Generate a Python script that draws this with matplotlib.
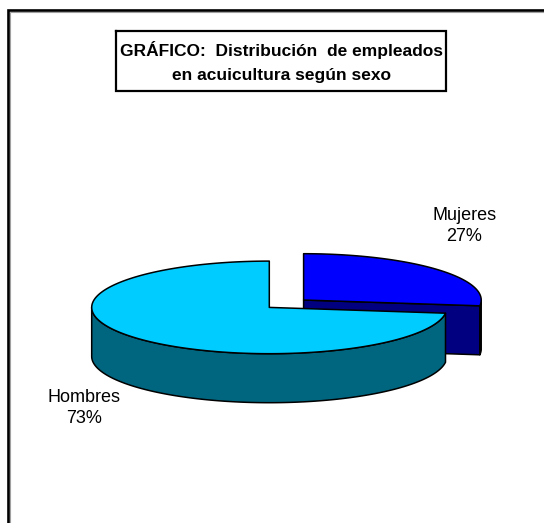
import numpy as np
import matplotlib
matplotlib.use('Agg')
import matplotlib.pyplot as plt

plt.rcParams['font.family'] = ['Liberation Sans', 'DejaVu Sans']

title = 'GRÁFICO:  Distribución  de empleados\nen acuicultura según sexo'
categories = ['Mujeres', 'Hombres']
shares = [27, 73]

W, H = 544, 523
RX, RY = 177.6, 46.3
DEPTH = 49


def rim(cx, cy, a0, a1):
    t = np.radians(np.linspace(a0, a1, 200))
    return cx + RX * np.cos(t), cy - RY * np.sin(t)


fig = plt.figure(figsize=(W / 100, H / 100), dpi=100)
ax = fig.add_axes([0, 0, 1, 1])
ax.set_xlim(0, W)
ax.set_ylim(H, 0)
ax.axis('off')

# outer frame has no right or bottom edge in the picture
ax.plot([9.5, 9.5, W], [H, 11.5, 11.5], color='#a0a0a0', lw=0.8, solid_joinstyle='miter')
ax.plot([8, 8, W], [H, 10, 10], color='black', lw=1.9, solid_joinstyle='miter')

split = 90 - shares[0] * 3.6
edge = dict(edgecolor='black', lw=1.1, joinstyle='round')

# Mujeres, pulled out
cx, cy = 303.6, 300.0
x, y = rim(cx, cy, split, 0)
ax.fill([x[0], x[0], cx, cx], [y[0], y[0] + DEPTH, cy + DEPTH, cy], facecolor='#000080', **edge)
ax.fill(np.r_[x, x[::-1]], np.r_[y, y[::-1] + DEPTH], facecolor='#000080', **edge)
x, y = rim(cx, cy, 90, split)
ax.fill(np.r_[cx, x], np.r_[cy, y], facecolor='#0000FF', **edge)

# Hombres
cx, cy = 269.3, 307.4
x, y = rim(cx, cy, split, -180)
ax.fill(np.r_[x, x[::-1]], np.r_[y, y[::-1] + DEPTH], facecolor='#006680', **edge)
x, y = rim(cx, cy, split, split - shares[1] * 3.6)
ax.fill(np.r_[cx, x], np.r_[cy, y], facecolor='#00CCFF', **edge)

ax.text(281, 62, title, ha='center', va='center', fontsize=12.5, fontweight='bold',
        linespacing=1.68, color='black')
ax.plot([115.5, 445.5, 445.5, 115.5, 115.5], [30.5, 30.5, 90.5, 90.5, 30.5], color='black', lw=1.6,
        solid_joinstyle='miter')

ax.text(464.5, 226, f'{categories[0]}\n{shares[0]}%', ha='center', va='center', fontsize=13, linespacing=1.35)
ax.text(84, 408, f'{categories[1]}\n{shares[1]}%', ha='center', va='center', fontsize=13, linespacing=1.35)

fig.savefig('out.png', dpi=100, facecolor='white')
